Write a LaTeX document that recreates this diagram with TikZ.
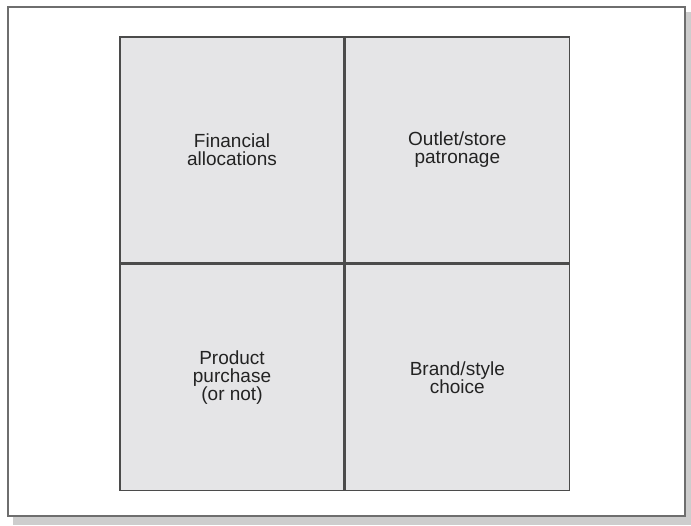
\documentclass[tikz,border=0pt]{standalone}
\usepackage{fontspec}
\setmainfont{Liberation Sans}
\usetikzlibrary{positioning}
\definecolor{cellgray}{RGB}{229, 229, 231}
\definecolor{linegray}{RGB}{75, 75, 75}
\definecolor{framegray}{RGB}{110, 110, 110}
\definecolor{shadowgray}{RGB}{205, 205, 205}
\definecolor{textgray}{RGB}{35, 35, 35}
\tikzset{
    cell/.style={rectangle, draw=linegray, fill=cellgray, line width=1.3pt, minimum width=224pt, minimum height=226pt, inner sep=0pt, align=center, text=textgray, font=\fontsize{19}{18}\selectfont},
}

\begin{document}
\begin{tikzpicture}[x=1pt, y=-1pt]
    \useasboundingbox (0,0) rectangle (691,525);
    % shadow and frame
    \fill[shadowgray] (13,12) rectangle (691,525);
    \draw[framegray, fill=white, line width=2pt] (8,7) rectangle (685,516);
    % quadrants
    \node[cell] (fin) at (232,150) {Financial\\allocations};
    \node[cell, right=0pt of fin] (outlet) {Outlet/store\\patronage};
    \node[cell, below=0pt of fin] (prod) {Product\\purchase\\(or not)};
    \node[cell, right=0pt of prod] (brand) {Brand/style\\choice};
\end{tikzpicture}
\end{document}
